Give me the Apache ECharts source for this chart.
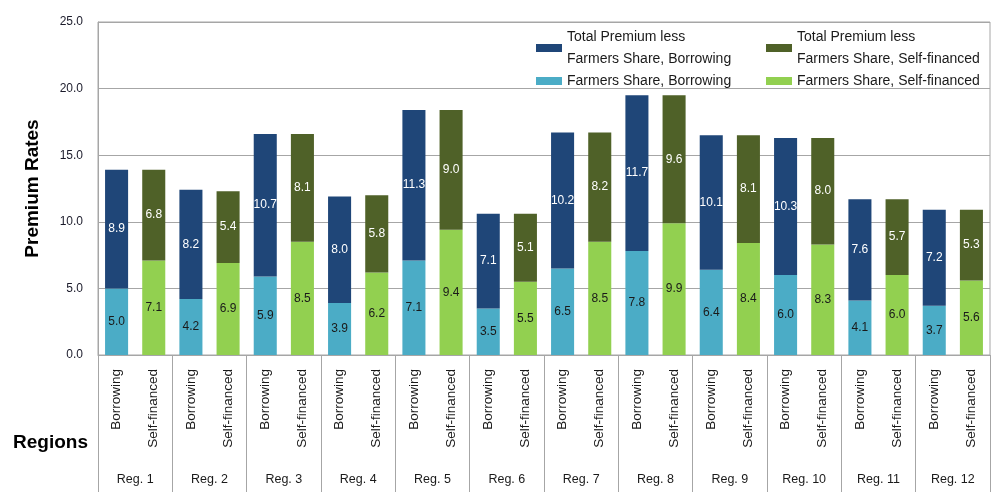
<!DOCTYPE html>
<html>
<head>
<meta charset="utf-8">
<script src="https://cdn.jsdelivr.net/npm/echarts@6/dist/echarts.min.js"></script>
<style>
  html, body { margin: 0; padding: 0; background: #fff; }
  #chart { width: 996px; height: 492px; }
</style>
</head>
<body>
<div id="chart"></div>
<script>
const regions = ['Reg. 1', 'Reg. 2', 'Reg. 3', 'Reg. 4', 'Reg. 5', 'Reg. 6',
  'Reg. 7', 'Reg. 8', 'Reg. 9', 'Reg. 10', 'Reg. 11', 'Reg. 12']
const modes = ['Borrowing', 'Self-financed']
const yTicks = [0, 5, 10, 15, 20, 25]

// per region values
const farmersBorrowing = [5.0, 4.2, 5.9, 3.9, 7.1, 3.5, 6.5, 7.8, 6.4, 6.0, 4.1, 3.7]
const restBorrowing = [8.9, 8.2, 10.7, 8.0, 11.3, 7.1, 10.2, 11.7, 10.1, 10.3, 7.6, 7.2]
const farmersSelf = [7.1, 6.9, 8.5, 6.2, 9.4, 5.5, 8.5, 9.9, 8.4, 8.3, 6.0, 5.6]
const restSelf = [6.8, 5.4, 8.1, 5.8, 9.0, 5.1, 8.2, 9.6, 8.1, 8.0, 5.7, 5.3]

const narrow = "'Liberation Sans Narrow', 'Liberation Sans', sans-serif"
const font = "'Liberation Sans', sans-serif"

// 24 slots: borrowing at even index, self-financed at odd
const categories = []
regions.forEach(() => modes.forEach(m => categories.push(m)))

const spread = (vals, slot) => {
  const out = []
  vals.forEach(v => {
    out.push(slot === 0 ? v : '-')
    out.push(slot === 1 ? v : '-')
  })
  return out
}

const names = {
  lb: 'Farmers Share, Borrowing',
  db: 'Total Premium less Farmers Share, Borrowing',
  lg: 'Farmers Share, Self-financed',
  dg: 'Total Premium less Farmers Share, Self-financed'
}

const makeSeries = (name, data, color, labelColor) => ({
  name: name,
  type: 'bar',
  stack: 'total',
  barWidth: '62%',
  data: data,
  itemStyle: { color: color },
  label: {
    show: true,
    position: 'inside',
    color: labelColor,
    fontFamily: font,
    fontSize: 12,
    formatter: p => Number(p.value).toFixed(1)
  }
})

const chart = echarts.init(document.getElementById('chart'))

const legendBase = {
  orient: 'vertical',
  top: 21,
  itemWidth: 26,
  itemHeight: 8,
  itemGap: 0,
  icon: 'rect',
  selectedMode: false,
  formatter: n => n.replace(' less ', ' less\n'),
  textStyle: { fontFamily: font, fontSize: 14, color: '#1a1a1a', lineHeight: 22 }
}

chart.setOption({
  animation: false,
  title: {
    text: 'Regions',
    left: 8,
    top: 428,
    textStyle: { fontFamily: narrow, fontSize: 19, fontWeight: 'bold', color: '#000' }
  },
  legend: [
    Object.assign({}, legendBase, { left: 531, data: [names.db, names.lb] }),
    Object.assign({}, legendBase, { left: 761, data: [names.dg, names.lg] })
  ],
  grid: {
    left: 98,
    right: 6,
    top: 22,
    bottom: 137,
    show: true,
    borderColor: '#a6a6a6',
    borderWidth: 1
  },
  xAxis: [
    {
      type: 'category',
      data: categories,
      position: 'bottom',
      axisLine: { lineStyle: { color: '#a6a6a6' } },
      axisTick: { show: false },
      axisLabel: {
        rotate: 90,
        interval: 0,
        margin: 14,
        fontFamily: narrow,
        fontSize: 13.5,
        color: '#1a1a1a'
      }
    },
    {
      type: 'category',
      data: regions,
      position: 'bottom',
      axisLine: { show: false },
      axisTick: { show: true, length: 137, lineStyle: { color: '#a6a6a6' } },
      axisLabel: {
        interval: 0,
        margin: 118,
        fontFamily: narrow,
        fontSize: 12.5,
        color: '#1a1a1a'
      }
    }
  ],
  yAxis: {
    type: 'value',
    min: yTicks[0],
    max: yTicks[yTicks.length - 1],
    interval: 5,
    name: 'Premium Rates',
    nameLocation: 'middle',
    nameGap: 56,
    nameTextStyle: { fontFamily: narrow, fontSize: 19, fontWeight: 'bold', color: '#000' },
    axisLine: { show: true, lineStyle: { color: '#a6a6a6' } },
    axisTick: { show: false },
    splitLine: { lineStyle: { color: '#a6a6a6' } },
    axisLabel: {
      margin: 15,
      fontFamily: font,
      fontSize: 12,
      color: '#1a1a2a',
      formatter: v => v.toFixed(1)
    }
  },
  series: [
    makeSeries(names.lb, spread(farmersBorrowing, 0), '#4bacc6', '#1a1a1a'),
    makeSeries(names.db, spread(restBorrowing, 0), '#1f4678', '#ffffff'),
    makeSeries(names.lg, spread(farmersSelf, 1), '#92d050', '#1a1a1a'),
    makeSeries(names.dg, spread(restSelf, 1), '#4f6128', '#ffffff')
  ]
})

window.addEventListener('resize', () => chart.resize())
</script>
</body>
</html>
